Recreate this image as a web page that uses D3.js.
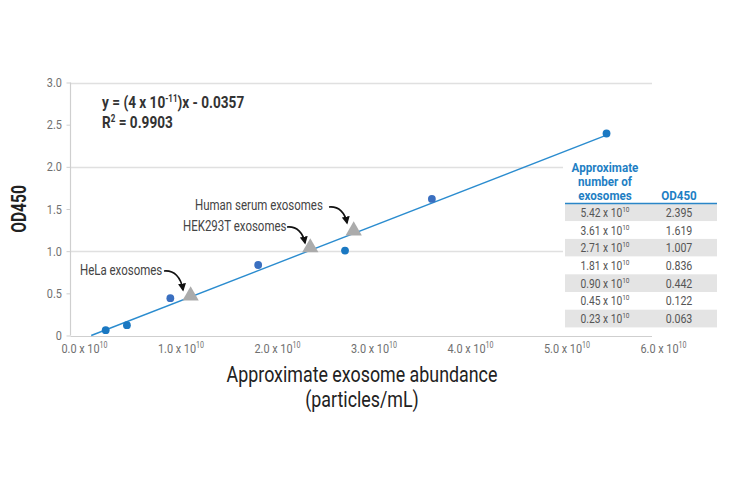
<!DOCTYPE html>
<html><head><meta charset="utf-8">
<script src="https://cdn.jsdelivr.net/npm/d3@7"></script>
<style>
html,body{margin:0;padding:0;background:#fff;}
svg{display:block;font-family:Roboto,"Liberation Sans",sans-serif;}
</style></head>
<body><svg id="c" width="730" height="478"></svg>
<script>
// ---- data ----
const abundanceMantissa = [5.42, 3.61, 2.71, 1.81, 0.90, 0.45, 0.23]; // x 10^10 particles/mL
const od450 = [2.395, 1.619, 1.007, 0.836, 0.442, 0.122, 0.063];
const tableCountLabels = ["5.42", "3.61", "2.71", "1.81", "0.90", "0.45", "0.23"];
const tableOdLabels = ["2.395", "1.619", "1.007", "0.836", "0.442", "0.122", "0.063"];
const sampleNames = ["HeLa exosomes", "HEK293T exosomes", "Human serum exosomes"];
const sampleAbundance = [1.11e10, 2.35e10, 2.80e10];
const sampleOd = [0.46, 1.03, 1.23];
const fitSlope = 4.45e-11, fitIntercept = -0.0357;
const fitRange = [0.08e10, 5.42e10];
const xTickValues = [0, 1e10, 2e10, 3e10, 4e10, 5e10, 6e10];
const xTickMantissa = ["0.0", "1.0", "2.0", "3.0", "4.0", "5.0", "6.0"];
const yTickValues = [0, 0.5, 1.0, 1.5, 2.0, 2.5, 3.0];
const yTickLabels = ["0", "0.5", "1.0", "1.5", "2.0", "2.5", "3.0"];
const yGridValues = [1.0, 2.0, 3.0];

const SX = 0.84; // horizontal condensing to mimic a condensed typeface
const svg = d3.select("#c");
const x = d3.scaleLinear().domain([0, 6e10]).range([83.5, 662.5]);
const y = d3.scaleLinear().domain([0, 3]).range([335.5, 82.5]);
const plotLeft = 70.5, plotRight = 652;

function label(parent, px, py, o = {}) {
  const g = parent.append("g").attr("transform", `translate(${px},${py})${o.rotate ? ` rotate(${o.rotate})` : ""} scale(${o.sx || SX},1)`);
  return g.append("text").attr("text-anchor", o.anchor || "start")
    .attr("fill", o.fill || "#333").style("font-size", (o.size || 13) + "px")
    .style("font-weight", o.weight || "normal");
}

// gridlines
svg.append("g").selectAll("line").data(yGridValues).join("line")
  .attr("x1", plotLeft).attr("x2", plotRight)
  .attr("y1", d => Math.round(y(d)) + 0.5).attr("y2", d => Math.round(y(d)) + 0.5)
  .attr("stroke", "#e0e0e0").attr("stroke-width", 1.5);

// x axis baseline
svg.append("line").attr("x1", plotLeft).attr("x2", plotRight)
  .attr("y1", Math.round(y(0)) + 0.5).attr("y2", Math.round(y(0)) + 0.5)
  .attr("stroke", "#cfcfcf").attr("stroke-width", 1.2);

// y axis (ticks via d3 axis, labels condensed)
const yAxis = d3.axisLeft(y).tickValues(yTickValues).tickFormat("").tickSize(4);
const gy = svg.append("g").attr("transform", `translate(${plotLeft},0)`).call(yAxis);
gy.select(".domain").attr("stroke", "#cfcfcf").attr("stroke-width", 1.2).attr("d", `M0,${y(3)}V${y(0)}`);
gy.selectAll(".tick line").attr("stroke", "#cfcfcf");
yTickValues.forEach((v, i) => {
  label(svg, 62, y(v) + 4.5, { anchor: "end", fill: "#707070", size: 13 }).text(yTickLabels[i]);
});

// x tick labels
xTickValues.forEach((v, i) => {
  const t = label(svg, x(v) + 1, 353, { anchor: "middle", fill: "#707070", size: 13 });
  t.append("tspan").text(xTickMantissa[i] + " x 10");
  t.append("tspan").attr("dy", -5).style("font-size", "8.5px").text("10");
});

// table background + rows
const tblLeft = 565, tblRight = 717, col1 = 605, col2 = 679, headerBottom = 203.5, rowH = 17.7;
svg.append("rect").attr("x", tblLeft - 2).attr("y", 150).attr("width", tblRight - tblLeft + 6).attr("height", 180).attr("fill", "#fff");
const rows = svg.append("g").selectAll("g").data(tableCountLabels).join("g")
  .attr("transform", (d, i) => `translate(0,${headerBottom + i * rowH})`);
rows.append("rect").attr("x", tblLeft).attr("width", tblRight - tblLeft).attr("height", rowH)
  .attr("fill", (d, i) => i % 2 === 0 ? "#e4e4e4" : "#ffffff");
rows.each(function (d, i) {
  const r = d3.select(this);
  const t = label(r, col1, rowH / 2 + 4.5, { anchor: "middle", fill: "#555", size: 12.5, sx: 0.82 });
  t.append("tspan").text(d + " x 10");
  t.append("tspan").attr("dy", -5).style("font-size", "8px").text("10");
  label(r, col2, rowH / 2 + 4.5, { anchor: "middle", fill: "#555", size: 12.5, sx: 0.85 }).text(tableOdLabels[i]);
});
// header
["Approximate", "number of", "exosomes"].forEach((t, i) => {
  label(svg, col1, 172 + i * 13.8, { anchor: "middle", fill: "#1f7fc4", size: 12, weight: "bold", sx: 0.97 }).text(t);
});
label(svg, col2, 199.5, { anchor: "middle", fill: "#1f7fc4", size: 12, weight: "bold", sx: 0.97 }).text("OD450");
svg.append("line").attr("x1", tblLeft).attr("x2", tblRight).attr("y1", headerBottom).attr("y2", headerBottom)
  .attr("stroke", "#2a86c8").attr("stroke-width", 1.5);

// fit line
svg.append("line")
  .attr("x1", x(fitRange[0])).attr("y1", y(fitSlope * fitRange[0] + fitIntercept))
  .attr("x2", x(fitRange[1])).attr("y2", y(fitSlope * fitRange[1] + fitIntercept))
  .attr("stroke", "#2b8ccf").attr("stroke-width", 1.4);

// data points
svg.append("g").selectAll("circle").data(abundanceMantissa).join("circle")
  .attr("cx", d => x(d * 1e10)).attr("cy", (d, i) => y(od450[i])).attr("r", 3.9)
  .attr("fill", (d, i) => (i === 1 || i === 3 || i === 4) ? "#3a6fc0" : "#1a78c2");

// sample triangles
const tri = d3.symbol().type(d3.symbolTriangle).size(115);
svg.append("g").selectAll("path").data(sampleAbundance).join("path")
  .attr("d", tri).attr("transform", (d, i) => `translate(${x(d)},${y(sampleOd[i]) - 1})`)
  .attr("fill", "#ababab");

// annotations
const annoText = [[80, 275], [183, 231], [195, 210]];
sampleNames.forEach((n, i) => {
  label(svg, annoText[i][0], annoText[i][1], { fill: "#444", size: 14, sx: 0.82 }).text(n);
});
svg.append("defs").append("marker").attr("id", "ah").attr("viewBox", "0 0 10 10")
  .attr("refX", 8).attr("refY", 5).attr("markerWidth", 8).attr("markerHeight", 8)
  .attr("orient", "auto").attr("markerUnits", "userSpaceOnUse")
  .append("path").attr("d", "M0,0L10,5L0,10z").attr("fill", "#111");
const arrows = [
  "M164,271 C174,270 181,277 183,290",
  "M287,227 C297,226 303,233 305,243",
  "M329,207 C339,206 345,213 347,223"
];
svg.append("g").selectAll("path").data(arrows).join("path")
  .attr("d", d => d).attr("fill", "none").attr("stroke", "#111").attr("stroke-width", 1.7)
  .attr("marker-end", "url(#ah)");

// equation
const e1 = label(svg, 102, 108, { fill: "#333", size: 17, weight: "bold", sx: 0.8 });
e1.append("tspan").text("y = (4 x 10");
e1.append("tspan").attr("dy", -6).style("font-size", "10px").text("-11");
e1.append("tspan").attr("dy", 6).text(")x - 0.0357");
const e2 = label(svg, 102, 128, { fill: "#333", size: 17, weight: "bold", sx: 0.8 });
e2.append("tspan").text("R");
e2.append("tspan").attr("dy", -6).style("font-size", "10px").text("2");
e2.append("tspan").attr("dy", 6).text(" = 0.9903");

// axis titles
label(svg, 26, 209, { rotate: -90, anchor: "middle", fill: "#222", size: 20, weight: "bold", sx: 0.78 }).text("OD450");
label(svg, 362, 382, { anchor: "middle", fill: "#222", size: 21.5, sx: 0.83 }).text("Approximate exosome abundance");
label(svg, 362, 407, { anchor: "middle", fill: "#222", size: 21.5, sx: 0.83 }).text("(particles/mL)");
</script></body></html>
